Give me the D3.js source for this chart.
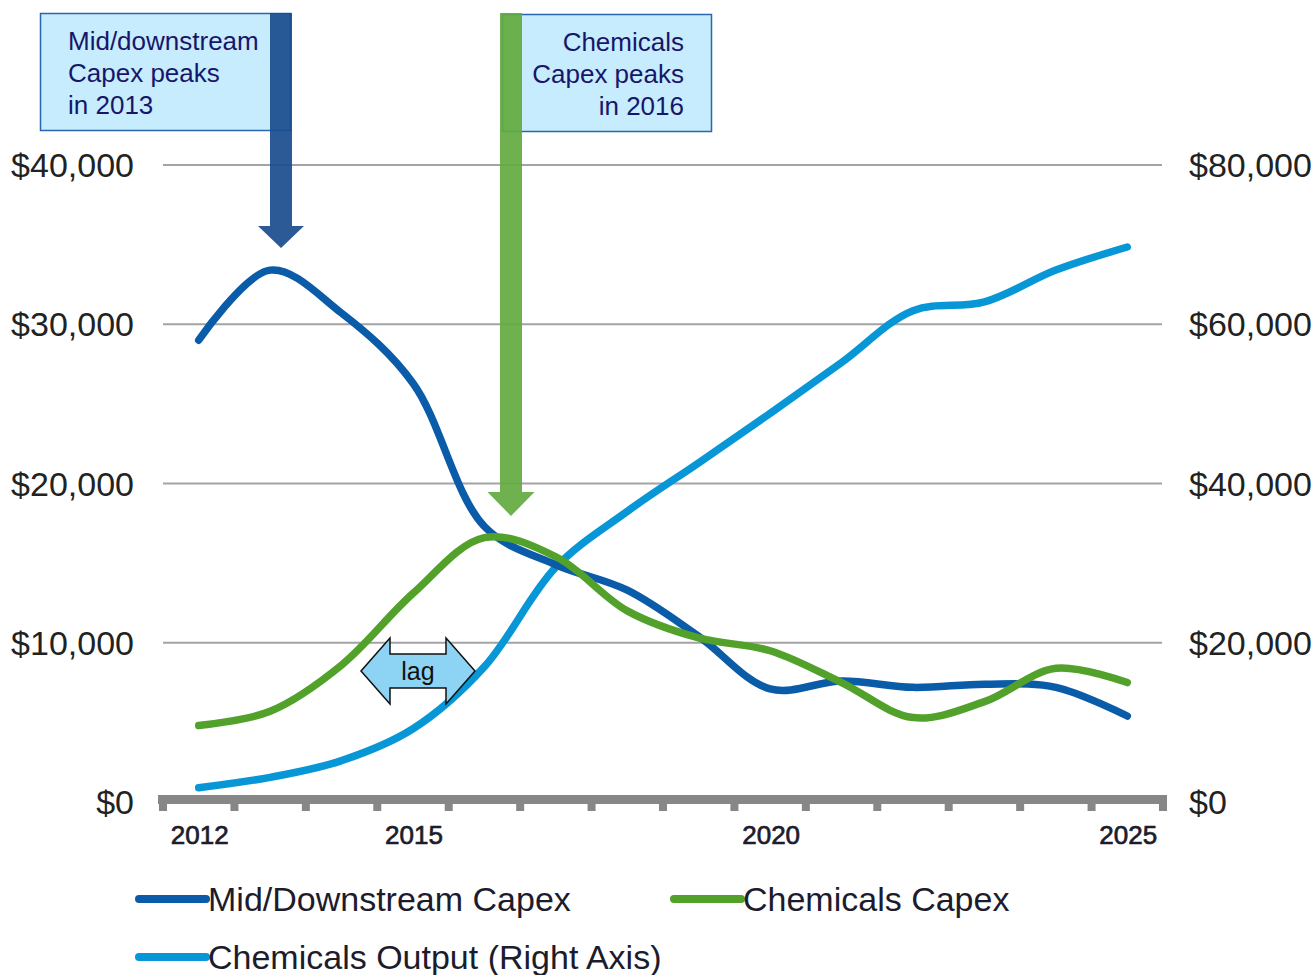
<!DOCTYPE html>
<html>
<head>
<meta charset="utf-8">
<script src="https://cdn.jsdelivr.net/npm/d3@7"></script>
<style>
  html, body { margin: 0; padding: 0; background: #fff; }
  svg { display: block; font-family: "Liberation Sans", Arial, sans-serif; }
</style>
</head>
<body>
<svg id="chart" width="1313" height="975"></svg>
<script>
// ---- data ----
const years = [2012, 2013, 2014, 2015, 2016, 2017, 2018, 2019, 2020, 2021, 2022, 2023, 2024, 2025];
const midDownstreamCapex = [29000, 33400, 30700, 26300, 17300, 14900, 13300, 10400, 7100, 7600, 7200, 7400, 7200, 5400];
const chemicalsCapex = [4800, 5700, 8600, 13100, 16600, 15400, 12000, 10300, 9500, 7500, 5300, 6300, 8400, 7500];
const chemicalsOutput = [1800, 3100, 5200, 9200, 17000, 29500, 36500, 42600, 48800, 55200, 61700, 62800, 66800, 69700];
const leftTicks = [0, 10000, 20000, 30000, 40000];
const rightTicks = [0, 20000, 40000, 60000, 80000];
const labeledYears = [2012, 2015, 2020, 2025];
const seriesNames = ["Mid/Downstream Capex", "Chemicals Capex", "Chemicals Output (Right Axis)"];
const annotationTexts = [["Mid/downstream", "Capex peaks", "in 2013"], ["Chemicals", "Capex peaks", "in 2016"]];

const colors = { mid: "#0a5ba8", chem: "#52a12a", out: "#0797d6" };

const svg = d3.select("#chart");
const fmt = v => "$" + d3.format(",")(v);

const x = d3.scaleBand().domain(years).range([163, 1163]).padding(0);
const yL = d3.scaleLinear().domain([0, 40000]).range([802, 165]);
const yR = d3.scaleLinear().domain([0, 80000]).range([802, 165]);
const cx = d => x(d) + x.bandwidth() / 2;

// gridlines
svg.append("g").selectAll("line").data(leftTicks.filter(t => t > 0)).join("line")
  .attr("x1", 163).attr("x2", 1162)
  .attr("y1", d => yL(d)).attr("y2", d => yL(d))
  .attr("stroke", "#a3a3a3").attr("stroke-width", 2);

// left axis labels
svg.append("g").selectAll("text").data(leftTicks).join("text")
  .attr("x", 134).attr("y", d => yL(d) + 12)
  .attr("text-anchor", "end").attr("font-size", 34).attr("fill", "#222")
  .text(fmt);

// right axis labels
svg.append("g").selectAll("text").data(rightTicks).join("text")
  .attr("x", 1189).attr("y", d => yR(d) + 12)
  .attr("text-anchor", "start").attr("font-size", 34).attr("fill", "#222")
  .text(fmt);

// x axis bar with ticks at band boundaries
const axisG = svg.append("g");
axisG.append("rect").attr("x", 158).attr("y", 795).attr("width", 1009).attr("height", 9).attr("fill", "#878787");
const bounds = years.map(d => x(d)).concat([x(years[years.length - 1]) + x.bandwidth()]);
axisG.selectAll("rect.tk").data(bounds).join("rect").attr("class", "tk")
  .attr("x", d => d - 4).attr("y", 800).attr("width", 8).attr("height", 11).attr("fill", "#878787");

// year labels
svg.append("g").selectAll("text").data(labeledYears).join("text")
  .attr("x", d => cx(d) + 1).attr("y", 844)
  .attr("text-anchor", "middle").attr("font-size", 26).attr("fill", "#1c1c2c")
  .attr("stroke", "#1c1c2c").attr("stroke-width", 0.7)
  .text(d => d);

// lines
const curve = d3.curveCatmullRom.alpha(0.5);
const mk = (vals, scale) => d3.line().curve(curve).x((d, i) => cx(years[i])).y(d => scale(d))(vals);
const lineG = svg.append("g").attr("fill", "none").attr("stroke-width", 7.5).attr("stroke-linecap", "round").attr("stroke-linejoin", "round");
lineG.append("path").attr("d", mk(chemicalsOutput, yR)).attr("stroke", colors.out);
lineG.append("path").attr("d", mk(midDownstreamCapex, yL)).attr("stroke", colors.mid);
lineG.append("path").attr("d", mk(chemicalsCapex, yL)).attr("stroke", colors.chem);

// annotation boxes
const box1 = svg.append("g");
box1.append("rect").attr("x", 40.5).attr("y", 13.5).attr("width", 250).attr("height", 117)
  .attr("fill", "#c6ecfd").attr("stroke", "#2a66ad").attr("stroke-width", 1.5);
box1.selectAll("text").data(annotationTexts[0]).join("text")
  .attr("x", 68).attr("y", (d, i) => 50 + i * 32).attr("font-size", 26).attr("fill", "#17166a").text(d => d);

const box2 = svg.append("g");
box2.append("rect").attr("x", 502.5).attr("y", 14.5).attr("width", 209).attr("height", 117)
  .attr("fill", "#c6ecfd").attr("stroke", "#2a66ad").attr("stroke-width", 1.5);
box2.selectAll("text").data(annotationTexts[1]).join("text")
  .attr("x", 684).attr("y", (d, i) => 51 + i * 32).attr("text-anchor", "end").attr("font-size", 26).attr("fill", "#17166a").text(d => d);

// block arrows
function downArrow(cxp, top, headTop, tip, shaftW, headW, color) {
  const s = shaftW / 2, h = headW / 2;
  const pts = [[cxp - s, top], [cxp + s, top], [cxp + s, headTop], [cxp + h, headTop], [cxp, tip], [cxp - h, headTop], [cxp - s, headTop]];
  svg.append("polygon").attr("points", pts.map(p => p.join(",")).join(" "))
    .attr("fill", color).attr("fill-opacity", 0.92);
}
downArrow(281, 13, 226, 248, 22, 46, "#194c8e");
downArrow(511, 13, 492, 516, 22, 47, "#62aa3f");

// lag double arrow
const lagPts = [[361, 671], [390, 638], [390, 654], [446, 654], [446, 638], [475, 671], [446, 704], [446, 688], [390, 688], [390, 704]];
svg.append("polygon").attr("points", lagPts.map(p => p.join(",")).join(" "))
  .attr("fill", "#8dd3f3").attr("stroke", "#111").attr("stroke-width", 1.5).attr("stroke-linejoin", "miter");
svg.append("text").attr("x", 418).attr("y", 680).attr("text-anchor", "middle").attr("font-size", 25).attr("fill", "#111").text("lag");

// legend
const legendItems = [
  { name: seriesNames[0], color: colors.mid, x: 139, y: 899 },
  { name: seriesNames[1], color: colors.chem, x: 674, y: 899 },
  { name: seriesNames[2], color: colors.out, x: 139, y: 957 }
];
const lg = svg.append("g");
legendItems.forEach(it => {
  lg.append("line").attr("x1", it.x).attr("x2", it.x + 67).attr("y1", it.y).attr("y2", it.y)
    .attr("stroke", it.color).attr("stroke-width", 8).attr("stroke-linecap", "round");
  lg.append("text").attr("x", it.x + 69).attr("y", it.y + 12).attr("font-size", 34).attr("fill", "#1c1c2c").text(it.name);
});
</script>
</body>
</html>
